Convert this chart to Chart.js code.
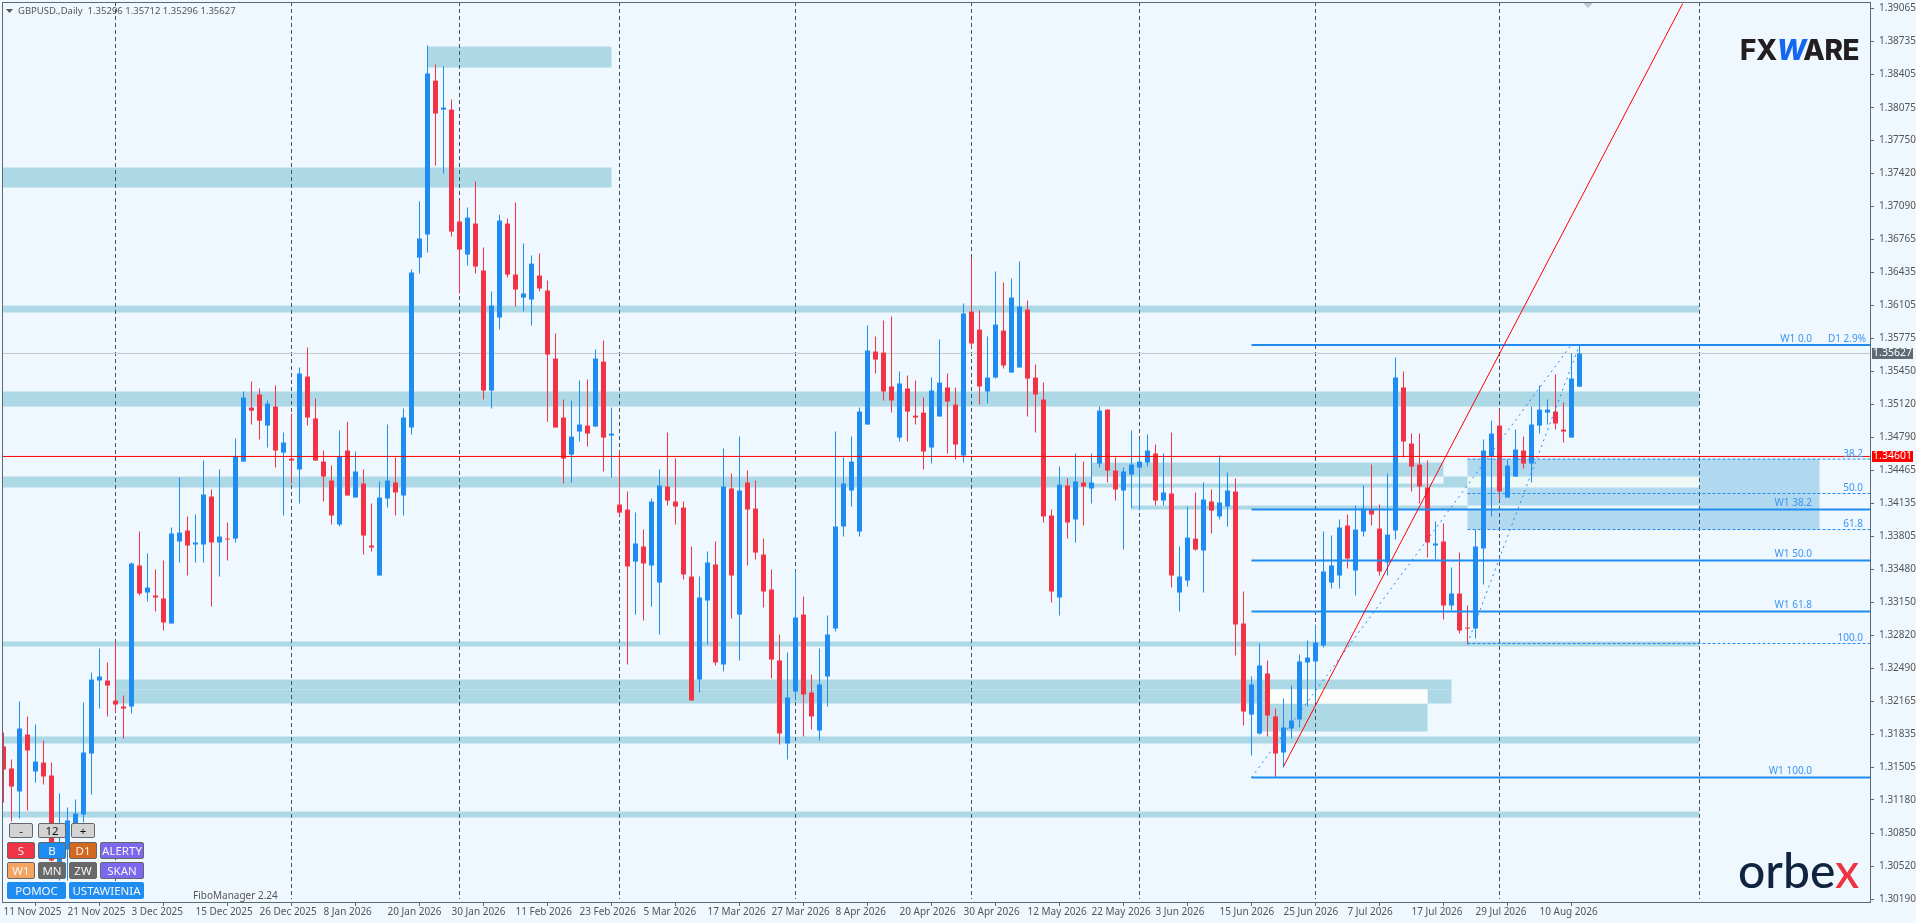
<!DOCTYPE html>
<html>
<head>
<meta charset="utf-8">
<title>GBPUSD Daily</title>
<script src="https://cdn.jsdelivr.net/npm/chart.js@4/dist/chart.umd.js"></script>
<style>
  html, body { margin: 0; padding: 0; background: #f0f8ff; overflow: hidden; }
  #wrap { position: relative; width: 1916px; height: 923px; font-family: "Noto Sans", sans-serif; }
  canvas { position: absolute; left: 0; top: 0; }
  .ui { position: absolute; box-sizing: border-box; text-align: center; color: #f5f5f5; font-size: 11.5px; }
  .txt { position: absolute; white-space: pre; color: #555; font-size: 10px; }
</style>
</head>
<body>
<div id="wrap">
  <canvas id="chart" width="1916" height="923"></canvas>
  <div class="txt" style="left:18px;top:4px;font-size:9.5px;">GBPUSD.,Daily  1.35296 1.35712 1.35296 1.35627</div>
  <div class="txt" style="left:193px;top:888px;">FiboManager 2.24</div>
  <div id="buttons"></div>
  <div class="txt" style="left:1740px;top:32px;font:800 28px/36px Inter,sans-serif;color:#231f20;letter-spacing:-0.5px;">FX<span style="color:#1467f0;font-style:italic;letter-spacing:-3px;">W</span>ARE</div>
  <div class="txt" style="left:1738px;top:842px;font:500 48px/56px Lato,sans-serif;color:#102440;">orbe<span style="color:#ef3340;">x</span></div>
</div>
<script>
const opens = [
  1.31712,1.31493,1.31264,1.31831,1.31463,1.31552,1.31423,1.30467,1.30686,1.30925,
  1.31034,1.31642,1.32369,1.32369,1.32170,1.32110,1.32110,1.33515,1.33246,1.33216,
  1.33186,1.32937,1.33754,1.33863,1.33724,1.33724,1.34202,1.33744,1.33783,1.33783,
  1.34550,1.35088,1.35218,1.34909,1.35098,1.34640,1.34580,1.34471,1.35397,1.34979,
  1.34550,1.34361,1.33923,1.34660,1.34192,1.34331,1.33714,1.33415,1.34182,1.34341,
  1.34212,1.34889,1.36582,1.36811,1.38345,1.38056,1.38056,1.36941,1.36612,1.36921,
  1.36453,1.35258,1.35985,1.36921,1.36413,1.36184,1.36164,1.36403,1.36254,1.35576,
  1.34989,1.34620,1.34849,1.34909,1.34899,1.35546,1.34809,1.34122,1.34072,1.33554,
  1.33704,1.33515,1.33345,1.34302,1.34152,1.34092,1.33405,1.32379,1.33166,1.33525,
  1.32529,1.34282,1.33026,1.34341,1.34082,1.33624,1.33276,1.32569,1.31742,1.32260,
  1.33026,1.32250,1.31871,1.32409,1.32887,1.33903,1.34262,1.33853,1.34919,1.35646,
  1.35636,1.35298,1.34789,1.35278,1.35008,1.35038,1.34690,1.34999,1.35288,1.35118,
  1.34610,1.36044,1.35865,1.35248,1.35387,1.35855,1.35437,1.35487,1.36064,1.35387,
  1.35168,1.34013,1.33196,1.34312,1.33973,1.34341,1.34282,1.34530,1.35068,1.34461,
  1.34262,1.34421,1.34491,1.34540,1.34630,1.34162,1.34232,1.33246,1.33365,1.33783,
  1.33664,1.34152,1.34003,1.34102,1.34252,1.32937,1.32030,1.31841,1.32439,1.32011,
  1.31652,1.31891,1.31981,1.32549,1.32559,1.32718,1.33345,1.33415,1.33913,1.33465,
  1.33853,1.34072,1.33883,1.33545,1.33863,1.35288,1.34730,1.34520,1.34292,1.33714,
  1.33754,1.33116,1.33236,1.32897,1.32887,1.33684,1.34600,1.34909,1.34192,1.34401,
  1.34660,1.34530,1.34909,1.35038,1.35048,1.34869,1.34789,1.35296
];
const closes = [
  1.31483,1.31313,1.31891,1.31672,1.31562,1.31413,1.30576,1.30606,1.30975,1.31044,
  1.31652,1.32379,1.32409,1.32319,1.32130,1.32090,1.33535,1.33236,1.33295,1.33196,
  1.32947,1.33833,1.33843,1.33714,1.33744,1.34222,1.33744,1.33803,1.33774,1.34600,
  1.35188,1.35058,1.34958,1.35128,1.34660,1.34740,1.34560,1.35427,1.34989,1.34560,
  1.34401,1.34013,1.34600,1.34212,1.34451,1.33813,1.33694,1.34192,1.34361,1.34242,
  1.34989,1.36433,1.36772,1.38415,1.38017,1.38076,1.36841,1.36662,1.36980,1.36493,
  1.35258,1.36104,1.36951,1.36413,1.36264,1.36224,1.36522,1.36274,1.35616,1.34889,
  1.34580,1.34799,1.34919,1.34829,1.35576,1.34789,1.34829,1.34042,1.33505,1.33734,
  1.33535,1.34152,1.34312,1.34162,1.34102,1.33425,1.32170,1.33196,1.33545,1.32549,
  1.34302,1.33415,1.34262,1.34072,1.33644,1.33256,1.32578,1.31841,1.32200,1.32997,
  1.32230,1.32011,1.32329,1.32827,1.33903,1.34331,1.34550,1.35048,1.35656,1.35566,
  1.35248,1.35158,1.35328,1.35048,1.34989,1.34650,1.35258,1.35337,1.35148,1.34720,
  1.36025,1.35726,1.35298,1.35387,1.35915,1.35507,1.36184,1.36094,1.35377,1.35218,
  1.34003,1.33256,1.34321,1.33943,1.34351,1.34302,1.34341,1.35058,1.34461,1.34272,
  1.34451,1.34520,1.34550,1.34660,1.34162,1.34242,1.33415,1.33405,1.33793,1.33674,
  1.34172,1.34062,1.34142,1.34262,1.32927,1.32060,1.32329,1.32519,1.32021,1.31642,
  1.31901,1.31971,1.32559,1.32598,1.32748,1.33455,1.33515,1.33893,1.33584,1.33873,
  1.34082,1.34023,1.33455,1.33823,1.35387,1.34750,1.34500,1.34302,1.33744,1.33734,
  1.33116,1.33236,1.32867,1.32887,1.33704,1.34660,1.34829,1.34252,1.34510,1.34670,
  1.34530,1.34919,1.35068,1.35068,1.34929,1.34849,1.35377,1.35627
];
const highs = [
  1.31851,1.31582,1.32160,1.32011,1.31931,1.31772,1.31552,1.31244,1.31104,1.31184,
  1.32150,1.32449,1.32688,1.32549,1.32758,1.32220,1.33545,1.33853,1.33634,1.33475,
  1.33564,1.33893,1.34391,1.34003,1.34023,1.34560,1.34272,1.34471,1.33943,1.34780,
  1.35248,1.35347,1.35278,1.35158,1.35308,1.34839,1.35028,1.35487,1.35686,1.35178,
  1.34660,1.34510,1.34859,1.34948,1.34650,1.34471,1.34132,1.34351,1.34919,1.34590,
  1.35078,1.36463,1.37140,1.38694,1.38505,1.38486,1.38156,1.37160,1.37080,1.37339,
  1.36682,1.36244,1.37010,1.36971,1.37130,1.36722,1.36602,1.36622,1.36353,1.35825,
  1.35168,1.35158,1.35357,1.35367,1.35666,1.35756,1.35088,1.34650,1.34252,1.34042,
  1.33873,1.34182,1.34471,1.34839,1.34580,1.34152,1.33704,1.33405,1.33654,1.33754,
  1.34680,1.34431,1.34799,1.34461,1.34361,1.33783,1.33475,1.32827,1.32648,1.33465,
  1.33206,1.32429,1.32688,1.33016,1.34849,1.34590,1.34799,1.35088,1.35905,1.35796,
  1.35955,1.35995,1.35447,1.35407,1.35357,1.35188,1.35387,1.35766,1.35427,1.35288,
  1.36124,1.36582,1.36054,1.35796,1.36443,1.36333,1.36373,1.36542,1.36154,1.35517,
  1.35337,1.34072,1.34500,1.34381,1.34630,1.34550,1.34630,1.35098,1.35068,1.34590,
  1.34491,1.34859,1.34770,1.34819,1.34720,1.34630,1.34839,1.33704,1.34102,1.34242,
  1.34341,1.34272,1.34610,1.34441,1.34381,1.33256,1.32409,1.32738,1.32569,1.32090,
  1.32190,1.32319,1.32628,1.32768,1.32927,1.33853,1.33813,1.33973,1.34023,1.34112,
  1.34312,1.34520,1.34122,1.34431,1.35586,1.35447,1.34829,1.34829,1.34560,1.33953,
  1.33933,1.33495,1.33644,1.33116,1.33873,1.34770,1.34958,1.35068,1.34570,1.34869,
  1.34799,1.35098,1.35308,1.35168,1.35417,1.35138,1.35626,1.35712
];
const lows = [
  1.31154,1.30965,1.30995,1.31074,1.31353,1.31333,1.30566,1.30377,1.30377,1.30806,
  1.30955,1.31234,1.32090,1.32011,1.32051,1.31792,1.32040,1.33216,1.33156,1.33056,
  1.32867,1.32937,1.33545,1.33415,1.33545,1.33545,1.33106,1.33405,1.33564,1.33744,
  1.34550,1.34919,1.34770,1.34690,1.34491,1.34013,1.34331,1.34132,1.34909,1.34560,
  1.34152,1.33923,1.33903,1.34212,1.34192,1.33624,1.33654,1.33415,1.34092,1.34013,
  1.34013,1.34819,1.36423,1.36632,1.37499,1.37419,1.36791,1.36224,1.36503,1.36423,
  1.35168,1.35078,1.35865,1.36383,1.36094,1.36044,1.35905,1.36244,1.34948,1.34889,
  1.34331,1.34341,1.34750,1.34700,1.34899,1.34451,1.34391,1.34013,1.32529,1.33026,
  1.32966,1.33106,1.32827,1.34112,1.33923,1.33375,1.32170,1.32250,1.32728,1.32519,
  1.32459,1.32987,1.32569,1.33515,1.33574,1.33096,1.32389,1.31732,1.31582,1.32170,
  1.31812,1.31881,1.31772,1.32110,1.32857,1.33803,1.34102,1.33803,1.34919,1.35427,
  1.35158,1.35038,1.34750,1.34750,1.34919,1.34471,1.34530,1.34999,1.34630,1.34570,
  1.34540,1.35686,1.35118,1.35128,1.35377,1.35477,1.35437,1.35487,1.34999,1.34839,
  1.33943,1.33146,1.33016,1.33783,1.33744,1.33913,1.34132,1.34491,1.34341,1.34162,
  1.33674,1.34082,1.34062,1.34500,1.34112,1.34112,1.33295,1.33056,1.33305,1.33664,
  1.33246,1.33833,1.33973,1.33903,1.32618,1.31921,1.31622,1.31831,1.31812,1.31403,
  1.31503,1.31792,1.31901,1.32110,1.32160,1.32698,1.33285,1.33285,1.33485,1.33216,
  1.33803,1.33913,1.33415,1.33415,1.33774,1.34590,1.34252,1.34132,1.33594,1.33574,
  1.32977,1.33066,1.32837,1.32728,1.32788,1.33325,1.34003,1.34162,1.34192,1.34401,
  1.34481,1.34341,1.34829,1.34919,1.34869,1.34740,1.34789,1.35296
];

const dateLabels = [
  "11 Nov 2025","21 Nov 2025","3 Dec 2025","15 Dec 2025","26 Dec 2025","8 Jan 2026","20 Jan 2026",
  "30 Jan 2026","11 Feb 2026","23 Feb 2026","5 Mar 2026","17 Mar 2026","27 Mar 2026","8 Apr 2026",
  "20 Apr 2026","30 Apr 2026","12 May 2026","22 May 2026","3 Jun 2026","15 Jun 2026","25 Jun 2026",
  "7 Jul 2026","17 Jul 2026","29 Jul 2026","10 Aug 2026"
];
const priceTicks = [
  1.39065,1.38735,1.38405,1.38075,1.37750,1.37420,1.37090,1.36765,1.36435,1.36105,
  1.35775,1.35450,1.35120,1.34790,1.34465,1.34135,1.33805,1.33480,1.33150,1.32820,
  1.32490,1.32165,1.31835,1.31505,1.31180,1.30850,1.30520,1.30190
];
const separatorBars = [14, 36, 57, 77, 99, 121, 142, 164, 187, 212];

// supply / demand zones: bar from, bar to, upper price, lower price
const zoneFrom  = [53, -1, -1, -1, -1, 136, 136, 180, 141, -1, 14, 14, 178, 157, -1, -1];
const zoneTo    = [76, 76, 212, 212, 136, 180, 180, 183, 183, 212, 181, 158, 181, 178, 212, 212];
const zoneUpper = [1.38684,1.37479,1.36104,1.35248,1.34401,1.34540,1.34331,1.34401,1.34112,1.32758,1.32379,1.32280,1.32280,1.32140,1.31812,1.31064];
const zoneLower = [1.38475,1.37280,1.36035,1.35098,1.34292,1.34401,1.34292,1.34292,1.34072,1.32708,1.32280,1.32140,1.32140,1.31861,1.31742,1.31005];

// fibo box of the daily swing, and the strips where it overlaps a zone
const boxFrom = 183, boxTo = 227, boxUpper = 1.34575, boxLower = 1.33873;
const stripFrom  = [183, 183, 158];
const stripTo    = [212, 212, 178];
const stripUpper = [1.34401, 1.34112, 1.32280];
const stripLower = [1.34292, 1.34072, 1.32140];

const weeklyLevels = [1.35712, 1.34072, 1.33564, 1.33056, 1.31403];
const weeklyNames  = ["W1 0.0", "W1 38.2", "W1 50.0", "W1 61.8", "W1 100.0"];
const dailyLevels  = [1.34575, 1.34232, 1.33873, 1.32738];
const dailyNames   = ["38.2", "50.0", "61.8", "100.0"];

const trendBars   = [160, 209.9];
const trendPrices = [1.31513, 1.39112];
const weeklyFanBars   = [156, 196];
const weeklyFanPrices = [1.31403, 1.35716];
const dailyFanBars    = [183, 197];
const dailyFanPrices  = [1.32738, 1.35712];

const lastPrice = 1.35627;
const markPrice = 1.34601;

const BLUE = "#1e8cf0";
const RED = "#f23345";
const ZONE = "#add8e6";
const AXIS = "#5c6a72";
const LEFT_BAR = -0.1875, RIGHT_BAR = 233.3125;

const buttons = [
  ["-", 9, 823, 24, 15, "#d3d3d3", "#111"], ["12", 38, 823, 28, 15, "#d3d3d3", "#111"], ["+", 71, 823, 24, 15, "#d3d3d3", "#111"],
  ["S", 7, 842, 28, 17, "#f23345"], ["B", 38, 842, 28, 17, "#1e8cf0"], ["D1", 69, 842, 28, 17, "#d2691e"], ["ALERTY", 100, 842, 44, 17, "#7b68ee"],
  ["W1", 7, 862, 28, 17, "#f4a460"], ["MN", 38, 862, 28, 17, "#696969"], ["ZW", 69, 862, 28, 17, "#696969"], ["SKAN", 100, 862, 44, 17, "#7b68ee"],
  ["POMOC", 7, 882, 59, 17, "#1e8cf0"], ["USTAWIENIA", 69, 882, 75, 17, "#1e8cf0"]
];
const buttonHost = document.getElementById("buttons");
buttons.forEach(([text, x, y, w, h, bg, fg]) => {
  const el = document.createElement("div");
  el.className = "ui";
  el.textContent = text;
  const noEdge = text === "POMOC" || text === "USTAWIENIA";
  el.style.cssText = `left:${x}px;top:${y}px;width:${w}px;height:${h}px;line-height:${noEdge ? h : h - 2}px;background:${bg};` +
    `border:${noEdge ? "0" : "1px solid #666"};border-radius:2px;${fg ? "color:" + fg + ";" : ""}`;
  buttonHost.appendChild(el);
});

// split candles by direction, body and wick are separate floating bars
const bars = opens.map((o, i) => ({ i, o, c: closes[i], h: highs[i], l: lows[i] }));
const up = bars.filter((b) => b.c >= b.o);
const down = bars.filter((b) => b.c < b.o);
const candleSet = (list, color, isWick) => ({
  type: "bar",
  data: list.map((b) => ({ x: b.i, y: isWick ? [b.l, b.h] : [Math.min(b.o, b.c), Math.max(b.o, b.c)] })),
  backgroundColor: color,
  barThickness: isWick ? 1 : 5,
  grouped: false,
  borderWidth: 0,
  inflateAmount: 0,
  order: isWick ? 4 : 3,
});
const lineSet = (xs, ys, color, width, dash, order) => ({
  type: "line",
  data: xs.map((x, k) => ({ x, y: ys[k] })),
  borderColor: color,
  borderWidth: width,
  borderDash: dash,
  pointRadius: 0,
  tension: 0,
  fill: false,
  order,
});

const datasets = [
  candleSet(up, BLUE, true),
  candleSet(down, RED, true),
  candleSet(up, BLUE, false),
  candleSet(down, RED, false),
  lineSet([LEFT_BAR, RIGHT_BAR], [lastPrice, lastPrice], "#c8c8c8", 1, [], 5),
  lineSet([LEFT_BAR, RIGHT_BAR], [markPrice, markPrice], "#ff0000", 1, [], 0),
  lineSet(trendBars, trendPrices, "#ff0000", 1, [], 0),
  lineSet(weeklyFanBars, weeklyFanPrices, BLUE, 1, [2, 4], 1),
  lineSet(dailyFanBars, dailyFanPrices, BLUE, 1, [2, 4], 1),
];
weeklyLevels.forEach((p) => datasets.push(lineSet([156, RIGHT_BAR], [p, p], BLUE, 2, [], 1)));
dailyLevels.forEach((p) => datasets.push(lineSet([183, RIGHT_BAR], [p, p], BLUE, 1, [3, 2], 1)));

const backdrop = {
  id: "backdrop",
  beforeDatasetsDraw(chart) {
    const { ctx, chartArea: a, scales: { x, y } } = chart;
    ctx.save();
    ctx.beginPath();
    ctx.rect(a.left, a.top, a.width, a.height);
    ctx.clip();
    const rect = (from, to, upper, lower, color) => {
      ctx.fillStyle = color;
      ctx.fillRect(x.getPixelForValue(from), y.getPixelForValue(upper),
        x.getPixelForValue(to) - x.getPixelForValue(from), y.getPixelForValue(lower) - y.getPixelForValue(upper));
    };
    zoneFrom.forEach((f, k) => rect(f, zoneTo[k], zoneUpper[k], zoneLower[k], ZONE));
    rect(boxFrom, boxTo, boxUpper, boxLower, "#b0d8ee");
    stripFrom.forEach((f, k) => rect(f, stripTo[k], stripUpper[k], stripLower[k], k === 2 ? "#fbfdfb" : "#eef8f4"));
    ctx.strokeStyle = "#44546a";
    ctx.lineWidth = 1;
    ctx.setLineDash([4, 3]);
    separatorBars.forEach((b) => {
      const px = x.getPixelForValue(b);
      ctx.beginPath();
      ctx.moveTo(px, a.top);
      ctx.lineTo(px, 899);
      ctx.stroke();
    });
    ctx.restore();
  },
};

const extras = {
  id: "extras",
  afterDraw(chart) {
    const { ctx, chartArea: a, scales: { y } } = chart;
    ctx.save();
    // frame
    ctx.strokeStyle = AXIS;
    ctx.lineWidth = 1;
    ctx.strokeRect(a.left + 0.5, a.top + 0.5, a.width, a.height);
    // fibo texts
    ctx.font = '10px "Noto Sans"';
    ctx.fillStyle = "#3d95f2";
    ctx.textAlign = "right";
    ctx.textBaseline = "bottom";
    weeklyLevels.forEach((p, k) => ctx.fillText(weeklyNames[k], 1812, y.getPixelForValue(p) - 1));
    ctx.fillText("D1 2.9%", 1866, y.getPixelForValue(weeklyLevels[0]) - 1);
    dailyLevels.forEach((p, k) => ctx.fillText(dailyNames[k], 1863, y.getPixelForValue(p)));
    // price tags on the axis
    ctx.textAlign = "center";
    ctx.textBaseline = "middle";
    ctx.font = '10.5px "Noto Sans"';
    [[lastPrice, "#5f6b73"], [markPrice, "#ff0000"]].forEach(([p, bg]) => {
      const py = y.getPixelForValue(p);
      ctx.fillStyle = bg;
      ctx.fillRect(1872, py - 5.5, 41, 11);
      ctx.fillStyle = "#fff";
      ctx.fillText(p.toFixed(5), 1892.5, py);
    });
    // shift marker and chart menu triangle
    ctx.fillStyle = "#c2c6ca";
    ctx.beginPath();
    ctx.moveTo(1583, 3);
    ctx.lineTo(1593, 3);
    ctx.lineTo(1588, 8);
    ctx.fill();
    ctx.fillStyle = "#555";
    ctx.beginPath();
    ctx.moveTo(6, 9);
    ctx.lineTo(13, 9);
    ctx.lineTo(9.5, 13);
    ctx.fill();
    ctx.restore();
  },
};

// keep the plot area fixed, the edge labels must not push it in
const noScalePadding = (scale) => {
  scale.paddingTop = 0;
  scale.paddingBottom = 0;
  scale.paddingLeft = 0;
  scale.paddingRight = 0;
};

new Chart(document.getElementById("chart"), {
  type: "bar",
  data: { datasets },
  plugins: [backdrop, extras],
  options: {
    responsive: false,
    devicePixelRatio: 1,
    animation: false,
    events: [],
    layout: { autoPadding: false, padding: { left: 2, top: 2 } },
    plugins: { legend: { display: false }, tooltip: { enabled: false } },
    scales: {
      x: {
        type: "linear",
        min: LEFT_BAR,
        max: RIGHT_BAR,
        offset: false,
        afterBuildTicks(scale) {
          scale.ticks = dateLabels.map((_, k) => ({ value: k * 8 }));
        },
        afterFit(scale) { scale.height = 21; noScalePadding(scale); },
        grid: { drawOnChartArea: false, drawTicks: true, tickLength: 4, tickColor: AXIS },
        border: { color: AXIS },
        ticks: {
          autoSkip: false,
          maxRotation: 0,
          align: "start",
          padding: 0,
          color: "#555",
          font: { family: "Noto Sans", size: 10 },
          callback: (v) => dateLabels[v / 8],
        },
      },
      y: {
        type: "linear",
        position: "right",
        min: 1.30163,
        max: 1.39128,
        afterBuildTicks(scale) {
          scale.ticks = priceTicks.map((value) => ({ value }));
        },
        afterFit(scale) { scale.width = 46; noScalePadding(scale); },
        grid: { drawOnChartArea: false, drawTicks: true, tickLength: 4, tickColor: AXIS },
        border: { color: AXIS },
        ticks: {
          autoSkip: false,
          padding: 5,
          color: "#555",
          font: { family: "Noto Sans", size: 10 },
          callback: (v) => v.toFixed(5),
        },
      },
    },
  },
});
</script>
</body>
</html>
